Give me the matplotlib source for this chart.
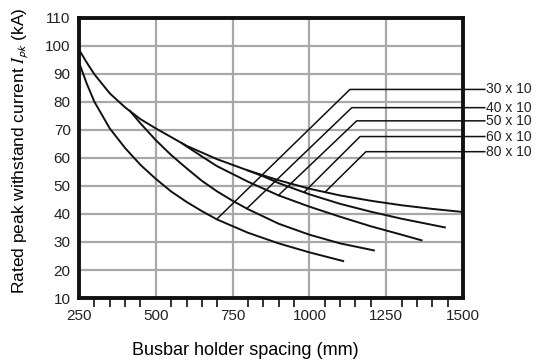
import matplotlib
matplotlib.use("Agg")
import matplotlib.pyplot as plt
from matplotlib.ticker import MultipleLocator, FixedLocator

plt.rcParams.update({
    "font.family": "Liberation Sans",
    "mathtext.fontset": "stix",
    "text.color": "#222222",
    "xtick.color": "#222222",
    "ytick.color": "#222222",
})

# busbar curves (spacing mm -> Ipk kA)
x_80 = [250, 275, 300, 350, 400, 450, 500, 600, 700, 800, 900, 1000, 1100, 1200, 1300, 1400, 1500]
y_80 = [98.6, 94.0, 89.8, 83.0, 78.0, 73.8, 70.5, 64.3, 59.5, 55.5, 52.0, 49.0, 46.6, 44.7, 43.1, 41.8, 40.7]

x_60 = [800, 850, 900, 1000, 1100, 1200, 1300, 1441]
y_60 = [55.5, 53.4, 51.0, 47.0, 43.6, 40.8, 38.3, 35.2]

x_50 = [585, 650, 700, 800, 900, 1000, 1100, 1200, 1300, 1365]
y_50 = [65.2, 60.5, 57.0, 51.5, 46.6, 42.6, 39.0, 35.6, 32.6, 30.6]

x_40 = [416, 450, 500, 550, 600, 650, 700, 750, 800, 900, 1000, 1100, 1210]
y_40 = [76.7, 72.3, 66.3, 61.0, 56.3, 51.8, 48.0, 44.7, 41.7, 36.5, 32.6, 29.5, 27.0]

x_30 = [250, 275, 300, 350, 400, 450, 500, 550, 600, 650, 700, 800, 900, 1000, 1110]
y_30 = [94.0, 86.5, 80.0, 70.5, 63.5, 57.5, 52.5, 48.0, 44.3, 41.0, 38.0, 33.3, 29.5, 26.3, 23.2]

curves = [(x_30, y_30), (x_40, y_40), (x_50, y_50), (x_60, y_60), (x_80, y_80)]

# leader lines: foot on curve -> knee -> horizontal to label
size_labels = ["30 x 10", "40 x 10", "50 x 10", "60 x 10", "80 x 10"]
foot_x = [698, 796, 899, 985, 1051]
foot_y = [38.1, 41.9, 46.6, 48.0, 47.8]
knee_x = [1132, 1138, 1154, 1165, 1184]
knee_y = [84.4, 77.9, 73.2, 67.6, 62.2]
leader_end_x = 1571
label_x = 1576

fig = plt.figure(figsize=(5.34, 3.6), dpi=100)
ax = fig.add_axes([0.148, 0.172, 0.719, 0.779])

for xs, ys in curves:
    ax.plot(xs, ys, color="#111111", lw=1.4, zorder=3, solid_joinstyle="round")

for fx, fy, kx, ky, lbl in zip(foot_x, foot_y, knee_x, knee_y, size_labels):
    ax.plot([fx, kx, leader_end_x], [fy, ky, ky], color="#111111", lw=1.1,
            clip_on=False, zorder=3)
    ax.text(label_x, ky, lbl, fontsize=10, va="center", ha="left")

ax.set_xlim(250, 1500)
ax.set_ylim(10, 110)
ax.xaxis.set_major_locator(FixedLocator([250, 500, 750, 1000, 1250, 1500]))
ax.xaxis.set_minor_locator(FixedLocator([v for v in range(300, 1500, 50) if v % 250]))
ax.yaxis.set_major_locator(MultipleLocator(10))
ax.grid(True, which="major", color="#a8a8a8", lw=1.6, zorder=0)
ax.set_axisbelow(True)

ax.tick_params(axis="x", which="major", length=0, pad=8, labelsize=11)
ax.tick_params(axis="x", which="minor", length=6.5, width=1.3, direction="out")
ax.tick_params(axis="y", which="major", length=0, pad=6, labelsize=11)

for sp in ax.spines.values():
    sp.set_linewidth(2.8)
    sp.set_color("#111111")

ax.set_ylabel(r"Rated peak withstand current $I_{\mathsf{pk}}$ (kA)", fontsize=12.5)
ax.set_xlabel("Busbar holder spacing (mm)", fontsize=13)
ax.xaxis.set_label_coords(0.432, -0.158)
ax.yaxis.set_label_coords(-0.124, 0.525)

fig.savefig("out.png", dpi=100)
